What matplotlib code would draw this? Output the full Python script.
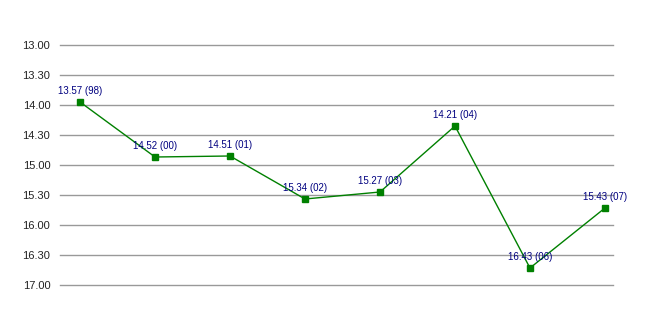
"""Race times by year, line chart with inverted time axis."""

import matplotlib

matplotlib.use("Agg")
import matplotlib.pyplot as plt

YEARS = ["98", "00", "01", "02", "03", "04", "06", "07"]
TIMES = ["13.57", "14.52", "14.51", "15.34", "15.27", "14.21", "16.43", "15.43"]
TICK_LABELS = ["13.00", "13.30", "14.00", "14.30", "15.00", "15.30", "16.00", "16.30", "17.00"]


def to_seconds(text):
    minutes, seconds = text.split(".")
    return int(minutes) * 60 + int(seconds)


seconds = [to_seconds(t) for t in TIMES]
tick_values = [to_seconds(t) for t in TICK_LABELS]
xs = list(range(len(YEARS)))

plt.rcParams["font.family"] = ["Liberation Sans", "DejaVu Sans"]

fig = plt.figure(figsize=(6.53, 3.15), dpi=100)
ax = fig.add_axes([60 / 653, 1 - 285 / 315, 553 / 653, 240 / 315])

for v in tick_values:
    ax.axhline(v, color="#999999", linewidth=1.0, zorder=1, clip_on=False)

ax.plot(xs, seconds, color="#008000", linewidth=1.0, marker="s",
        markersize=5, markerfacecolor="#008000", markeredgecolor="#008000", zorder=3)

for x, y, t, yr in zip(xs, seconds, TIMES, YEARS):
    ax.annotate(f"{t} ({yr})", (x, y), xytext=(0, 4), textcoords="offset points",
                ha="center", va="bottom", fontsize=7, color="#000080", zorder=4)

ax.set_ylim(tick_values[-1], tick_values[0])
ax.set_xlim(-0.267, 7.107)
ax.set_yticks(tick_values)
ax.set_yticklabels(TICK_LABELS, fontsize=8, color="#222222", stretch="condensed")
ax.tick_params(axis="y", length=0, pad=7)
ax.set_xticks([])
for spine in ax.spines.values():
    spine.set_visible(False)

fig.savefig("out.png", dpi=100)
